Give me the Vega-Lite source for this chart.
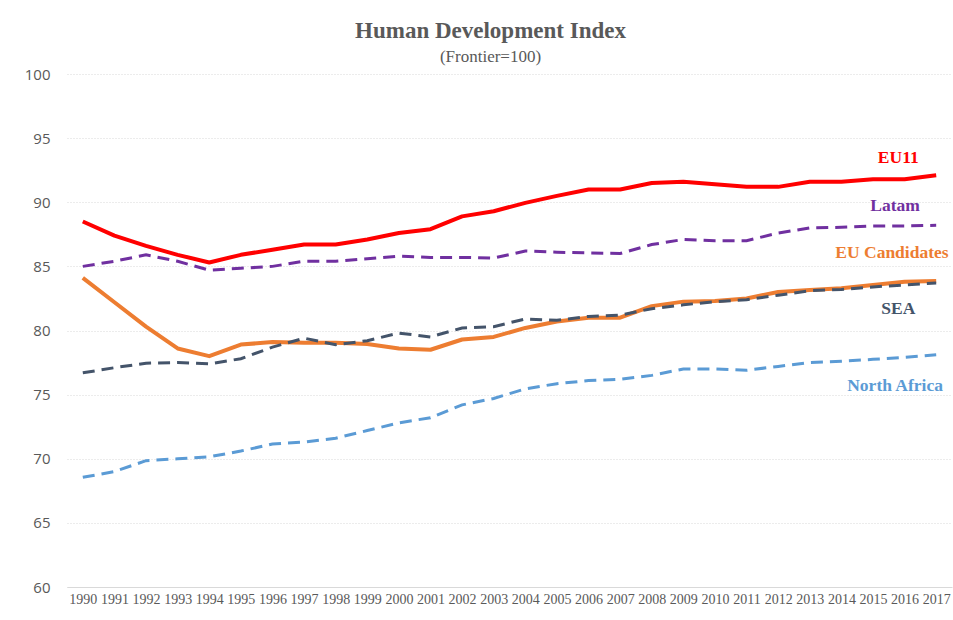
{
  "$schema": "https://vega.github.io/schema/vega-lite/v6.json",
  "autosize": "none",
  "width": 885,
  "height": 513,
  "padding": {"left": 67, "top": 74, "right": 1, "bottom": 33},
  "background": "white",
  "title": {
    "text": "Human Development Index",
    "subtitle": "(Frontier=100)",
    "anchor": "middle",
    "frame": "group",
    "dx": -19,
    "offset": 2,
    "font": "Liberation Serif",
    "fontSize": 23,
    "fontWeight": "bold",
    "color": "#595959",
    "subtitleFont": "Liberation Serif",
    "subtitleFontSize": 17,
    "subtitleColor": "#595959",
    "subtitlePadding": 6
  },
  "config": {
    "view": {"stroke": null}
  },
  "datasets": {
    "hdi": [
      {"year": 1990, "EU11": 88.5, "Latam": 85.0, "EU Candidates": 84.1, "SEA": 76.7, "North Africa": 68.55},
      {"year": 1991, "EU11": 87.4, "Latam": 85.4, "EU Candidates": 82.2, "SEA": 77.1, "North Africa": 69.0},
      {"year": 1992, "EU11": 86.6, "Latam": 85.9, "EU Candidates": 80.3, "SEA": 77.45, "North Africa": 69.85},
      {"year": 1993, "EU11": 85.9, "Latam": 85.4, "EU Candidates": 78.6, "SEA": 77.5, "North Africa": 70.0},
      {"year": 1994, "EU11": 85.3, "Latam": 84.7, "EU Candidates": 78.0, "SEA": 77.4, "North Africa": 70.15},
      {"year": 1995, "EU11": 85.9, "Latam": 84.85, "EU Candidates": 78.9, "SEA": 77.8, "North Africa": 70.6},
      {"year": 1996, "EU11": 86.3, "Latam": 85.0, "EU Candidates": 79.1, "SEA": 78.7, "North Africa": 71.15},
      {"year": 1997, "EU11": 86.7, "Latam": 85.4, "EU Candidates": 79.05, "SEA": 79.4, "North Africa": 71.3},
      {"year": 1998, "EU11": 86.7, "Latam": 85.4, "EU Candidates": 79.05, "SEA": 78.9, "North Africa": 71.6},
      {"year": 1999, "EU11": 87.1, "Latam": 85.6, "EU Candidates": 78.95, "SEA": 79.2, "North Africa": 72.2},
      {"year": 2000, "EU11": 87.6, "Latam": 85.8, "EU Candidates": 78.6, "SEA": 79.8, "North Africa": 72.8},
      {"year": 2001, "EU11": 87.9, "Latam": 85.7, "EU Candidates": 78.5, "SEA": 79.5, "North Africa": 73.2},
      {"year": 2002, "EU11": 88.9, "Latam": 85.7, "EU Candidates": 79.3, "SEA": 80.2, "North Africa": 74.2},
      {"year": 2003, "EU11": 89.3, "Latam": 85.65, "EU Candidates": 79.5, "SEA": 80.3, "North Africa": 74.7},
      {"year": 2004, "EU11": 89.95, "Latam": 86.2, "EU Candidates": 80.2, "SEA": 80.9, "North Africa": 75.45},
      {"year": 2005, "EU11": 90.5, "Latam": 86.1, "EU Candidates": 80.7, "SEA": 80.8, "North Africa": 75.85},
      {"year": 2006, "EU11": 91.0, "Latam": 86.05, "EU Candidates": 81.0, "SEA": 81.1, "North Africa": 76.1},
      {"year": 2007, "EU11": 91.0, "Latam": 86.0, "EU Candidates": 81.0, "SEA": 81.2, "North Africa": 76.2},
      {"year": 2008, "EU11": 91.5, "Latam": 86.7, "EU Candidates": 81.9, "SEA": 81.7, "North Africa": 76.5},
      {"year": 2009, "EU11": 91.6, "Latam": 87.1, "EU Candidates": 82.25, "SEA": 82.0, "North Africa": 77.0},
      {"year": 2010, "EU11": 91.4, "Latam": 87.0, "EU Candidates": 82.3, "SEA": 82.25, "North Africa": 77.0},
      {"year": 2011, "EU11": 91.2, "Latam": 87.0, "EU Candidates": 82.5, "SEA": 82.4, "North Africa": 76.9},
      {"year": 2012, "EU11": 91.2, "Latam": 87.6, "EU Candidates": 83.0, "SEA": 82.75, "North Africa": 77.2},
      {"year": 2013, "EU11": 91.6, "Latam": 88.0, "EU Candidates": 83.15, "SEA": 83.1, "North Africa": 77.5},
      {"year": 2014, "EU11": 91.6, "Latam": 88.05, "EU Candidates": 83.3, "SEA": 83.2, "North Africa": 77.6},
      {"year": 2015, "EU11": 91.8, "Latam": 88.15, "EU Candidates": 83.55, "SEA": 83.4, "North Africa": 77.75},
      {"year": 2016, "EU11": 91.8, "Latam": 88.15, "EU Candidates": 83.8, "SEA": 83.55, "North Africa": 77.9},
      {"year": 2017, "EU11": 92.1, "Latam": 88.2, "EU Candidates": 83.85, "SEA": 83.7, "North Africa": 78.1}
    ],
    "labels": [
      {"series": "EU11", "x": 2015.8, "y": 93.45},
      {"series": "Latam", "x": 2015.7, "y": 89.7},
      {"series": "EU Candidates", "x": 2015.6, "y": 86.05},
      {"series": "SEA", "x": 2015.8, "y": 81.7},
      {"series": "North Africa", "x": 2015.7, "y": 75.7}
    ]
  },
  "encoding": {
    "x": {
      "type": "quantitative",
      "scale": {"domain": [1989.5, 2017.5], "nice": false, "zero": false},
      "axis": {
        "title": null,
        "values": [1990,1991,1992,1993,1994,1995,1996,1997,1998,1999,2000,2001,2002,2003,2004,2005,2006,2007,2008,2009,2010,2011,2012,2013,2014,2015,2016,2017],
        "format": "d",
        "grid": false,
        "ticks": false,
        "domain": true,
        "domainColor": "#d9d9d9",
        "domainWidth": 1,
        "labelFont": "Liberation Serif",
        "labelFontSize": 14,
        "labelColor": "#595959",
        "labelPadding": 5,
        "labelOverlap": false,
        "labelFlush": false
      }
    },
    "y": {
      "type": "quantitative",
      "scale": {"domain": [60, 100], "nice": false, "zero": false},
      "axis": {
        "title": null,
        "values": [60, 65, 70, 75, 80, 85, 90, 95, 100],
        "grid": true,
        "gridColor": "#d9d9d9",
        "gridDash": [1, 2],
        "gridWidth": 1,
        "ticks": false,
        "domain": false,
        "labelFont": "Open Sans",
        "labelFontSize": 15,
        "labelColor": "#595959",
        "labelPadding": 17
      }
    },
    "color": {
      "type": "nominal",
      "scale": {
        "domain": ["EU11", "Latam", "EU Candidates", "SEA", "North Africa"],
        "range": ["#FF0000", "#7030A0", "#ED7D31", "#44546A", "#5B9BD5"]
      },
      "legend": null
    }
  },
  "layer": [
    {
      "data": {"name": "hdi"},
      "transform": [
        {"fold": ["EU11", "EU Candidates"], "as": ["series", "value"]}
      ],
      "mark": {"type": "line", "strokeWidth": 4, "strokeJoin": "round"},
      "encoding": {
        "x": {"field": "year"},
        "y": {"field": "value"},
        "color": {"field": "series"}
      }
    },
    {
      "data": {"name": "hdi"},
      "transform": [
        {"fold": ["Latam", "North Africa", "SEA"], "as": ["series", "value"]}
      ],
      "mark": {"type": "line", "strokeWidth": 3, "strokeDash": [12, 7]},
      "encoding": {
        "x": {"field": "year"},
        "y": {"field": "value"},
        "color": {"field": "series"}
      }
    },
    {
      "data": {"name": "labels"},
      "mark": {"type": "text", "font": "Liberation Serif", "fontWeight": "bold", "fontSize": 17.5, "align": "center", "baseline": "middle"},
      "encoding": {
        "x": {"field": "x"},
        "y": {"field": "y"},
        "text": {"field": "series"},
        "color": {"field": "series"}
      }
    }
  ]
}
